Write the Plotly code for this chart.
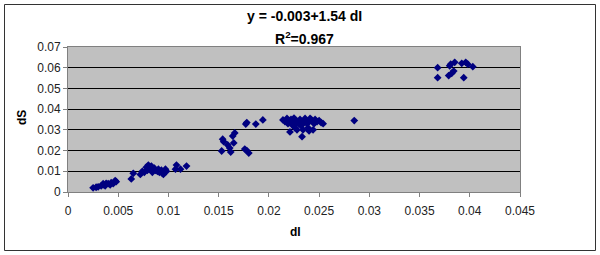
import plotly.graph_objects as go

dI = [
    # cluster 1
    0.0025, 0.0028, 0.0030, 0.0033, 0.0035, 0.0035, 0.0037, 0.0038, 0.0040, 0.0042, 0.0043, 0.0045, 0.0047, 0.0048,
    # cluster 2
    0.0063, 0.0065, 0.0072, 0.0074, 0.0076, 0.0078, 0.0079, 0.0080, 0.0081, 0.0083, 0.0084, 0.0086, 0.0087, 0.0089,
    0.0090, 0.0091, 0.0093, 0.0094, 0.0095, 0.0097, 0.0098, 0.0107, 0.0108, 0.0112, 0.0118,
    # cluster 3
    0.0154, 0.0155, 0.0159, 0.0161, 0.0162, 0.0153, 0.0165, 0.0166, 0.0164, 0.0177, 0.0178, 0.0187, 0.0194,
    0.0176, 0.0178, 0.0180,
    # cluster 4
    0.0214, 0.0216, 0.0218, 0.0219, 0.0220, 0.0221, 0.0222, 0.0223, 0.0224, 0.0225, 0.0226, 0.0227, 0.0228,
    0.0229, 0.0230, 0.0231, 0.0232, 0.0233, 0.0234, 0.0235, 0.0236, 0.0237, 0.0238, 0.0239, 0.0240, 0.0241,
    0.0242, 0.0243, 0.0244, 0.0245, 0.0246, 0.0248, 0.0250, 0.0252, 0.0254, 0.0220, 0.0226, 0.0233, 0.0240,
    0.0285,
    # cluster 5
    0.0368, 0.0368, 0.0380, 0.0381, 0.0385, 0.0379, 0.0382, 0.0384, 0.0394, 0.0392, 0.0396, 0.0398, 0.0403,
]
dS = [
    0.0020, 0.0023, 0.0025, 0.0030, 0.0035, 0.0040, 0.0030, 0.0042, 0.0040, 0.0035, 0.0045, 0.0040, 0.0055, 0.0050,
    0.0063, 0.0090, 0.0085, 0.0100, 0.0095, 0.0120, 0.0105, 0.0130, 0.0110, 0.0125, 0.0095, 0.0115, 0.0105, 0.0100,
    0.0110, 0.0095, 0.0105, 0.0090, 0.0085, 0.0110, 0.0100, 0.0110, 0.0130, 0.0110, 0.0125,
    0.0255, 0.0243, 0.0227, 0.0212, 0.0193, 0.0198, 0.0237, 0.0285, 0.0270, 0.0328, 0.0335, 0.0328, 0.0348,
    0.0207, 0.0200, 0.0188,
    0.0348, 0.0340, 0.0355, 0.0330, 0.0345, 0.0290, 0.0350, 0.0335, 0.0320, 0.0357, 0.0310, 0.0345, 0.0300,
    0.0340, 0.0330, 0.0350, 0.0320, 0.0340, 0.0300, 0.0335, 0.0355, 0.0345, 0.0330, 0.0310, 0.0340, 0.0355,
    0.0350, 0.0345, 0.0300, 0.0330, 0.0350, 0.0340, 0.0345, 0.0335, 0.0330, 0.0335, 0.0325, 0.0267, 0.0295,
    0.0345,
    0.0600, 0.0552, 0.0609, 0.0617, 0.0626, 0.0562, 0.0573, 0.0584, 0.0552, 0.0621, 0.0626, 0.0617, 0.0605,
]

title_line1 = "y = -0.003+1.54 dI"
title_line2 = "R<sup>2</sup>=0.967"

W, H = 600, 255
L, R, T, B = 68, 80, 47, 63
pw, ph = W - L - R, H - T - B

def px_to_paper_x(px):
    return (px - L) / pw

def px_to_paper_y(py):
    return (H - B - py) / ph

font = "Liberation Sans, Arial, sans-serif"

fig = go.Figure()
fig.add_trace(go.Scatter(
    x=dI, y=dS, mode="markers",
    marker=dict(symbol="diamond", size=6, color="#000080", line=dict(width=0)),
    showlegend=False,
))

fig.update_layout(
    width=W, height=H,
    margin=dict(l=L, r=R, t=T, b=B),
    paper_bgcolor="white",
    plot_bgcolor="#C0C0C0",
    font=dict(family=font, size=12, color="#222"),
    xaxis=dict(
        range=[0, 0.045], dtick=0.005, tick0=0,
        showgrid=False, zeroline=False,
        showline=True, linecolor="#808080", linewidth=1, mirror=True,
        ticks="outside", ticklen=4, tickcolor="#808080",
        tickformat="~g", tickfont=dict(size=12, color="#222"),
        ticklabelstandoff=4,
        fixedrange=True,
    ),
    yaxis=dict(
        range=[0, 0.07], dtick=0.01, tick0=0,
        showgrid=True, gridcolor="#000000", gridwidth=1,
        zeroline=False,
        showline=True, linecolor="#808080", linewidth=1, mirror=True,
        ticks="outside", ticklen=4, tickcolor="#808080",
        tickformat="~g", tickfont=dict(size=12, color="#222"),
        fixedrange=True,
    ),
    shapes=[
        dict(type="rect", xref="paper", yref="paper",
             x0=px_to_paper_x(4.5), x1=px_to_paper_x(595.5),
             y0=px_to_paper_y(250.5), y1=px_to_paper_y(4.5),
             line=dict(color="#333333", width=1), fillcolor="rgba(0,0,0,0)", layer="below"),
    ],
    annotations=[
        dict(text=title_line1, xref="paper", yref="paper",
             x=px_to_paper_x(304), y=px_to_paper_y(16), showarrow=False,
             xanchor="center", yanchor="middle",
             font=dict(family=font, size=14, color="black", weight="bold")),
        dict(text=title_line2, xref="paper", yref="paper",
             x=px_to_paper_x(304), y=px_to_paper_y(38), showarrow=False,
             xanchor="center", yanchor="middle",
             font=dict(family=font, size=14, color="black", weight="bold")),
        dict(text="dS", xref="paper", yref="paper",
             x=px_to_paper_x(22), y=px_to_paper_y(118), showarrow=False,
             xanchor="center", yanchor="middle", textangle=-90,
             font=dict(family=font, size=12, color="black", weight="bold")),
        dict(text="dI", xref="paper", yref="paper",
             x=px_to_paper_x(295), y=px_to_paper_y(232), showarrow=False,
             xanchor="center", yanchor="middle",
             font=dict(family=font, size=12, color="black", weight="bold")),
    ],
)

fig.write_html("out.html")
